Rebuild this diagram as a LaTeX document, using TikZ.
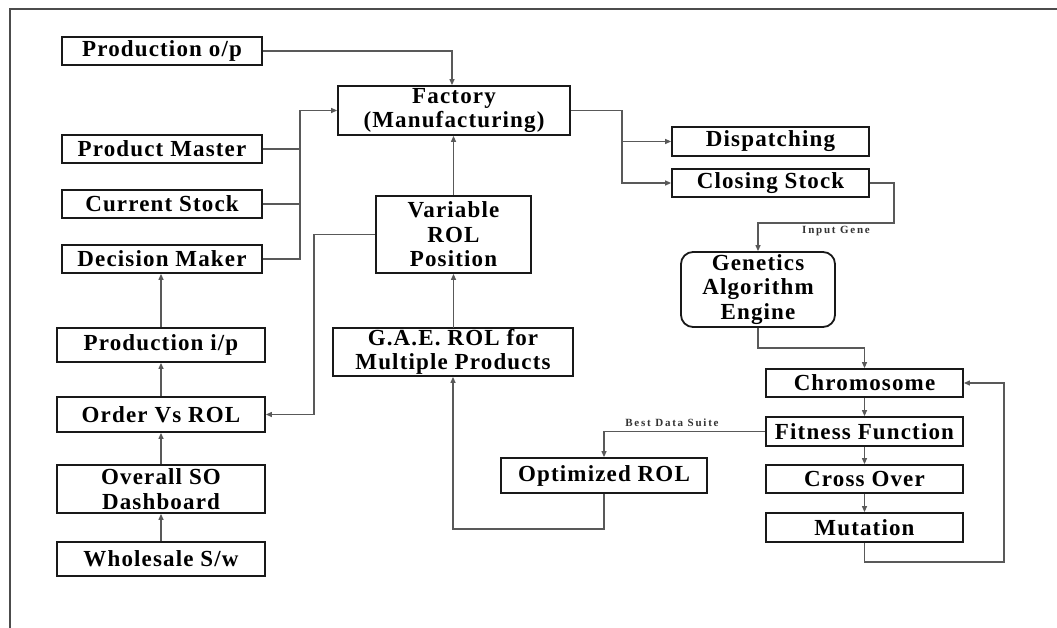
\documentclass[tikz,border=0pt]{standalone}
\usepackage{fontspec}
\setmainfont{Liberation Serif}[LetterSpace=5]
\newfontfamily\tagfont{Liberation Serif}[LetterSpace=16]
\usetikzlibrary{arrows.meta}

\tikzset{
  x=1pt, y=-1pt,
  box/.style={draw=black!90, line width=1.8pt, inner sep=0pt, align=center,
    font=\fontsize{23}{24.5}\selectfont\bfseries, fill=white},
  wire/.style={draw=black!65, line width=1.2pt},
  flow/.style={wire, -{Triangle[length=6pt,width=5pt]}},
  tag/.style={font=\tagfont\fontsize{11}{12}\selectfont\bfseries, text=black!80, inner sep=1pt},
}

\begin{document}
\begin{tikzpicture}
\useasboundingbox (0,0) rectangle (1057,628);
\fill[white] (0,0) rectangle (1057,628);

% page frame
\draw[line width=2pt, black!70] (10,628) -- (10,9) -- (1057,9);

% left column
\node[box, minimum width=200, minimum height=28] (po)  at (162,51)    {Production o/p};
\node[box, minimum width=200, minimum height=28] (pm)  at (162,149)   {Product Master};
\node[box, minimum width=200, minimum height=28] (cs)  at (162,204)   {Current Stock};
\node[box, minimum width=200, minimum height=28] (dm)  at (162,259)   {Decision Maker};
\node[box, minimum width=208, minimum height=34] (pip) at (161,345)   {Production i/p};
\node[box, minimum width=208, minimum height=35] (ovr) at (161,414.5) {Order Vs ROL};
\node[box, minimum width=208, minimum height=48] (osd) at (161,489)   {Overall SO\\Dashboard};
\node[box, minimum width=208, minimum height=34] (ws)  at (161,559)   {Wholesale S/w};

% centre column
\node[box, minimum width=232, minimum height=49] (fac) at (454,110.5) {Factory\\(Manufacturing)};
\node[box, minimum width=155, minimum height=77] (vrp) at (453.5,234.5) {Variable\\ROL\\Position};
\node[box, minimum width=240, minimum height=48] (gae) at (453,352)   {G.A.E. ROL for\\Multiple Products};
\node[box, minimum width=206, minimum height=35] (opt) at (604,475.5) {Optimized ROL};

% right column
\node[box, minimum width=197, minimum height=29] (dis) at (770.5,141.5) {Dispatching};
\node[box, minimum width=197, minimum height=28] (clo) at (770.5,183)   {Closing Stock};
\node[box, rounded corners=12pt, minimum width=154, minimum height=75] (eng) at (758,289.5) {Genetics\\Algorithm\\Engine};
\node[box, minimum width=197, minimum height=28] (chr) at (864.5,383)   {Chromosome};
\node[box, minimum width=197, minimum height=29] (fit) at (864.5,431.5) {Fitness Function};
\node[box, minimum width=197, minimum height=28] (cro) at (864.5,479)   {Cross Over};
\node[box, minimum width=197, minimum height=29] (mut) at (864.5,527.5) {Mutation};

% routing points
\coordinate (bus)  at (300,110.5);
\coordinate (vl)   at (314,234.5);
\coordinate (fx)   at (622,110.5);
\coordinate (cr)   at (894,223);
\coordinate (eb)   at (758,348);
\coordinate (ob)   at (604,529);
\coordinate (lp)   at (1004,562);

% inputs into the factory
\draw[flow] (po.east) -| ([xshift=-2pt]fac.north);
\draw[flow] (dm.east) -| (bus) -- (fac.west);
\draw[wire] (pm.east) -- (pm.east -| bus);
\draw[wire] (cs.east) -- (cs.east -| bus);
\draw[flow] (vrp.north) -- (vrp.north |- fac.south);
\draw[flow] (vl) |- (ovr.east);
\draw[wire] (vrp.west) -- (vl);

% left chain upwards
\draw[flow] (pip.north) -- (pip.north |- dm.south);
\draw[flow] (ovr.north) -- (pip.south);
\draw[flow] (osd.north) -- (ovr.south);
\draw[flow] (ws.north) -- (osd.south);

% centre chain
\draw[flow] (gae.north) -- (gae.north -| vrp.south) -- (vrp.south);
\draw[flow] (opt.south) -- (ob) -| (gae.south);

% factory outputs
\draw[flow] (fac.east) -- (fx) |- (clo.west);
\draw[flow] (fx |- dis.west) -- (dis.west);
\draw[flow] (clo.east) -| (cr) -| (eng.north);
\node[tag, anchor=north] at (836,225) {Input Gene};

% genetic algorithm loop
\draw[flow] (eng.south) -- (eb) -| (chr.north);
\draw[flow] (chr.south) -- (fit.north);
\draw[flow] (fit.south) -- (cro.north);
\draw[flow] (cro.south) -- (mut.north);
\draw[flow] (mut.south) |- (lp) |- (chr.east);
\draw[flow] (fit.west) -| (opt.north);
\node[tag, anchor=south] at (672,428) {Best Data Suite};
\end{tikzpicture}
\end{document}
